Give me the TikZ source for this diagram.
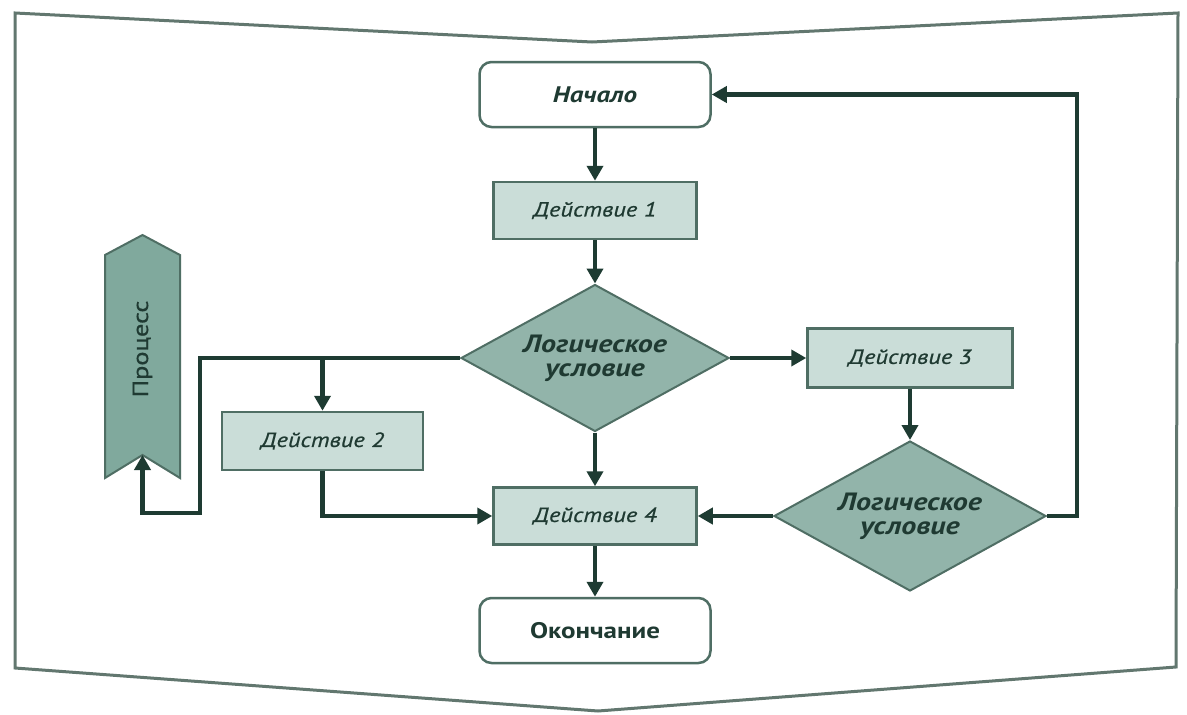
\documentclass[tikz,border=0pt]{standalone}
\usepackage{fontspec}
\setmainfont{PT Sans}
\newfontfamily\diafont[FakeStretch=1.2]{PT Sans}
\newfontfamily\diamed[FakeStretch=1.2,FakeBold=0.7]{PT Sans}
\usetikzlibrary{shapes.geometric,arrows.meta}
\definecolor{lineC}{HTML}{1E3B32}
\definecolor{borderC}{HTML}{4F6E64}
\definecolor{actC}{HTML}{CADDD8}
\definecolor{condC}{HTML}{92B4AA}
\definecolor{procC}{HTML}{80A99D}
\definecolor{frameC}{HTML}{62776F}
\definecolor{textC}{HTML}{1F3A32}
\tikzset{
  actbox/.style={rectangle, draw=borderC, line width=2.5pt, fill=actC,
    minimum width=203pt, minimum height=57pt, inner sep=0pt,
    font=\diamed\fontsize{20.5}{24}\selectfont\itshape, text=textC},
  termbox/.style={rectangle, rounded corners=12pt, draw=borderC, line width=2.5pt,
    fill=white, minimum width=231pt, minimum height=65pt, inner sep=0pt,
    font=\diafont\fontsize{22.5}{26}\selectfont\bfseries, text=textC},
  condbox/.style={diamond, aspect=1.82, draw=borderC, line width=2pt, fill=condC,
    inner sep=0pt, minimum width=268pt, minimum height=147pt, align=center,
    font=\diafont\fontsize{25}{24}\selectfont\bfseries\itshape, text=textC},
  conn/.style={draw=lineC, line width=4.5pt, -{Triangle[length=15pt,width=16pt]}},
  framebox/.style={draw=frameC, line width=3pt, line join=miter}
}
\begin{document}
\begin{tikzpicture}[x=1pt,y=-1pt]
\useasboundingbox[fill=white] (0,0) rectangle (1187,715);
% outer frame
\draw[framebox] (15,13) -- (592,42) -- (1178,13) -- (1176,667) -- (598,711) -- (15,668) -- cycle;

% nodes
\node[termbox] (start) at (595,94.5) {\itshape Начало};
\node[actbox] (a1) at (595,210.5) {Действие 1};
\node[condbox] (c1) at (595,358) {Логическое\\условие};
\node[actbox, minimum width=205pt, minimum height=59pt] (a3) at (910,358) {Действие 3};
\node[condbox, minimum width=272pt, minimum height=150pt] (c2) at (910,516) {Логическое\\условие};
\node[actbox] (a4) at (595,516) {Действие 4};
\node[termbox] (end) at (595,630.5) {Окончание};
\node[actbox, minimum width=201pt, minimum height=58pt] (a2) at (322.5,441) {Действие 2};

% process shape
\draw[draw=borderC, line width=2pt, fill=procC, line join=miter]
  (105,255) -- (142.5,235) -- (180,255) -- (180,478) -- (142.5,455) -- (105,478) -- cycle;
\node[rotate=90, font=\diamed\fontsize{22}{26}\selectfont, text=textC] (proc) at (142.5,349) {Процесс};
\coordinate (procin) at (142.5,455);

% helper coordinates
\coordinate (lb) at (200,513);
\coordinate (rt) at (1077,516);

% connectors
\draw[conn] (start.south) -- (a1.north);
\draw[conn] (a1.south) -- (c1.north);
\draw[conn] (c1.east) -- (a3.west);
\draw[conn] (a3.south) -- (c2.north);
\draw[conn] (c2.west) -- (a4.east);
\draw[conn] (c2.east) -- (rt) |- (start.east);
\draw[conn] (c1.south) -- (a4.north);
\draw[conn] (a4.south) -- (end.north);
\draw[conn] (c1.west) -| (lb) -| (procin);
\draw[conn] (a2.north |- c1.west) -- (a2.north);
\draw[conn] (a2.south) |- (a4.west);
\end{tikzpicture}
\end{document}
